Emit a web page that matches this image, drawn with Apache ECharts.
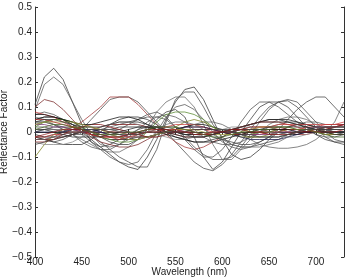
<!DOCTYPE html>
<html><head><meta charset="utf-8">
<script src="https://cdn.jsdelivr.net/npm/echarts@6/dist/echarts.min.js"></script>
<style>html,body{margin:0;padding:0;background:#fff}#c{width:348px;height:277px}</style>
</head><body><div id="c"></div>
<script>
const wavelengths = [400,410,420,430,440,450,460,470,480,490,500,510,520,530,540,550,560,570,580,590,600,610,620,630,640,650,660,670,680,690,700,710,720,730];
const xTicks = [400,450,500,550,600,650,700];
const yTicks = [-0.5,-0.4,-0.3,-0.2,-0.1,0,0.1,0.2,0.3,0.4,0.5];

const g1 = [0.11,0.22,0.255,0.21,0.12,0.03,-0.04,-0.06,-0.05,-0.03,-0.01,0.01,0.02,0.02,0.01,0.0,-0.01,-0.01,-0.01,0.0,0.01,0.01,0.01,0.0,0.0,-0.01,-0.01,0.0,0.0,0.01,0.01,0.01,0.0,0.0];
const g2 = [0.09,0.19,0.22,0.19,0.12,0.05,-0.01,-0.05,-0.06,-0.05,-0.03,-0.01,0.01,0.02,0.02,0.01,0.0,-0.01,-0.01,-0.01,0.0,0.0,0.01,0.01,0.01,0.0,0.0,-0.01,-0.01,0.0,0.0,0.01,0.01,0.01];
const g3 = [-0.02,-0.03,-0.04,-0.03,-0.01,0.01,0.05,0.09,0.13,0.14,0.14,0.12,0.08,0.04,0.0,-0.04,-0.08,-0.12,-0.145,-0.155,-0.13,-0.09,-0.04,0.01,0.06,0.1,0.12,0.125,0.1,0.06,0.02,-0.02,-0.04,-0.05];
const g4 = [-0.03,-0.03,-0.02,0.0,0.02,0.04,0.07,0.1,0.14,0.14,0.14,0.11,0.07,0.03,-0.01,-0.04,-0.06,-0.07,-0.06,-0.04,-0.02,0.0,0.01,0.02,0.02,0.02,0.01,0.0,-0.01,-0.01,0.0,0.01,0.02,0.02];
const g5 = [0.05,0.06,0.06,0.05,0.03,0.0,-0.03,-0.06,-0.09,-0.12,-0.14,-0.15,-0.1,-0.03,0.05,0.12,0.17,0.18,0.13,0.05,-0.03,-0.09,-0.11,-0.1,-0.07,-0.03,0.0,0.02,0.03,0.03,0.02,0.01,0.0,0.0];
const g6 = [0.03,0.04,0.05,0.05,0.04,0.02,-0.01,-0.04,-0.07,-0.1,-0.12,-0.14,-0.14,-0.07,0.04,0.13,0.16,0.16,0.1,0.03,-0.02,-0.05,-0.06,-0.06,-0.05,-0.04,-0.03,-0.01,0.0,0.01,0.02,0.02,0.02,0.02];
const g7 = [0.07,0.08,0.07,0.05,0.02,-0.01,-0.04,-0.07,-0.1,-0.12,-0.13,-0.12,-0.07,0.0,0.06,0.1,0.11,0.09,0.05,0.0,-0.04,-0.06,-0.07,-0.06,-0.04,-0.02,0.0,0.02,0.03,0.04,0.04,0.03,0.03,0.03];
const g8 = [0.0,0.01,0.02,0.02,0.02,0.01,0.0,-0.02,-0.04,-0.05,-0.05,-0.03,0.01,0.05,0.08,0.09,0.06,-0.02,-0.1,-0.15,-0.12,-0.06,0.0,0.05,0.1,0.12,0.12,0.1,0.06,0.02,-0.01,-0.03,-0.04,-0.04];
const g9 = [0.02,0.02,0.01,0.0,-0.01,-0.01,0.0,0.01,0.02,0.03,0.04,0.05,0.06,0.06,0.05,0.02,-0.02,-0.06,-0.09,-0.11,-0.11,-0.1,-0.06,-0.01,0.04,0.09,0.12,0.13,0.12,0.08,0.04,0.0,-0.03,-0.04];
const g10 = [-0.02,-0.02,-0.01,0.0,0.0,0.0,-0.01,-0.01,-0.02,-0.02,-0.01,0.0,0.01,0.02,0.02,0.02,0.01,0.0,-0.01,-0.02,-0.03,-0.04,-0.05,-0.05,-0.04,-0.02,0.01,0.05,0.09,0.12,0.14,0.14,0.1,0.06];
const g11 = [0.0,0.01,0.01,0.01,0.0,0.0,0.0,0.01,0.01,0.01,0.0,-0.01,-0.02,-0.02,-0.01,0.0,0.02,0.03,0.04,0.04,0.03,0.01,-0.01,-0.03,-0.05,-0.06,-0.065,-0.065,-0.06,-0.05,-0.03,0.0,0.04,0.12];
const g12 = [0.04,0.04,0.03,0.02,0.01,0.0,-0.01,-0.01,0.0,0.01,0.03,0.05,0.07,0.08,0.06,0.02,-0.03,-0.07,-0.1,-0.1,-0.07,-0.02,0.04,0.09,0.12,0.12,0.1,0.07,0.04,0.01,-0.01,-0.02,-0.02,-0.01];
const g13 = [0.06,0.05,0.03,0.01,-0.01,-0.03,-0.05,-0.07,-0.08,-0.08,-0.06,-0.03,0.02,0.08,0.12,0.14,0.14,0.1,0.03,-0.05,-0.11,-0.11,-0.07,-0.03,0.0,0.03,0.05,0.06,0.06,0.05,0.03,0.01,0.0,-0.01];
const g14 = [0.1,0.13,0.12,0.09,0.05,0.01,-0.02,-0.04,-0.05,-0.06,-0.06,-0.05,-0.03,-0.01,0.0,0.01,0.02,0.02,0.02,0.01,0.0,-0.01,-0.01,-0.01,0.0,0.0,0.01,0.01,0.01,0.0,0.0,-0.01,-0.01,-0.01];
const g15 = [-0.02,-0.03,-0.04,-0.05,-0.05,-0.05,-0.03,0.0,0.03,0.05,0.06,0.06,0.05,0.03,0.0,-0.02,-0.03,-0.04,-0.04,-0.03,-0.02,0.0,0.02,0.03,0.04,0.05,0.05,0.04,0.03,0.02,0.01,0.0,0.0,0.0];
const g16 = [0.04,0.04,0.03,0.01,-0.01,-0.04,-0.06,-0.07,-0.07,-0.05,-0.02,0.01,0.04,0.06,0.07,0.06,0.04,0.01,-0.02,-0.04,-0.05,-0.05,-0.04,-0.02,0.0,0.02,0.03,0.04,0.04,0.03,0.02,0.01,0.0,-0.01];

const s1 = [0.05,0.06,0.06,0.05,0.03,0.01,-0.01,-0.02,-0.03,-0.03,-0.03,-0.02,-0.02,-0.01,0.0,0.01,0.02,0.03,0.03,0.02,0.01,0.0,-0.01,-0.02,-0.02,-0.02,-0.02,-0.01,-0.01,0.0,0.0,0.01,0.01,0.01];
const s2 = [-0.03,-0.03,-0.03,-0.02,-0.01,0.0,0.01,0.02,0.03,0.03,0.03,0.03,0.02,0.01,0.0,-0.01,-0.02,-0.02,-0.02,-0.01,0.0,0.01,0.01,0.02,0.02,0.02,0.02,0.01,0.01,0.0,0.0,0.0,-0.01,-0.01];
const s3 = [0.08,0.07,0.06,0.04,0.02,0.0,-0.01,-0.02,-0.02,-0.02,-0.01,-0.01,0.0,0.0,0.0,0.01,0.01,0.01,0.01,0.0,0.0,-0.01,-0.01,-0.01,-0.01,0.0,0.0,0.01,0.01,0.02,0.02,0.03,0.03,0.03];
const s4 = [-0.1,-0.05,-0.01,0.01,0.02,0.02,0.02,0.01,0.0,-0.01,-0.02,-0.02,-0.02,-0.01,0.0,0.02,0.04,0.05,0.04,0.02,0.0,-0.01,-0.02,-0.02,-0.02,-0.01,0.0,0.01,0.01,0.01,0.01,0.0,0.0,0.0];
const s5 = [0.02,0.04,0.05,0.05,0.04,0.02,0.0,-0.02,-0.03,-0.04,-0.04,-0.03,0.0,0.04,0.07,0.08,0.08,0.07,0.05,0.02,0.0,-0.01,-0.01,-0.01,0.0,0.0,0.01,0.01,0.01,0.01,0.0,0.0,-0.01,-0.01];
const s6 = [-0.01,-0.02,-0.02,-0.02,-0.01,0.0,0.0,0.01,0.01,0.02,0.02,0.02,0.02,0.01,0.01,0.0,-0.01,-0.01,-0.01,-0.01,0.0,0.01,0.02,0.03,0.04,0.05,0.05,0.05,0.04,0.03,0.02,0.02,0.01,0.01];
const s7 = [0.03,0.03,0.02,0.02,0.01,0.0,0.0,0.0,-0.01,-0.01,-0.02,-0.02,-0.02,-0.01,0.0,0.0,0.01,0.01,0.01,0.01,0.0,0.0,-0.01,-0.01,-0.01,-0.01,0.0,0.0,0.01,0.01,0.02,0.02,0.02,0.03];
const s8 = [-0.04,-0.04,-0.03,-0.01,0.01,0.02,0.03,0.03,0.02,0.01,0.0,-0.01,-0.02,-0.02,-0.01,0.0,0.0,0.01,0.01,0.01,0.0,-0.01,-0.01,0.0,0.0,0.01,0.01,0.01,0.01,0.0,0.0,0.01,0.02,0.03];
const s9 = [-0.04,-0.05,-0.05,-0.05,-0.04,-0.02,0.0,0.02,0.03,0.04,0.04,0.03,0.01,-0.01,-0.02,-0.03,-0.03,-0.02,-0.01,0.0,0.01,0.02,0.02,0.02,0.01,0.0,-0.01,-0.02,-0.02,-0.01,0.0,0.01,0.01,0.01];
const s10 = [0.07,0.07,0.06,0.05,0.04,0.03,0.03,0.04,0.05,0.06,0.06,0.05,0.03,0.01,-0.01,-0.02,-0.03,-0.04,-0.04,-0.04,-0.03,-0.02,-0.01,0.0,0.01,0.01,0.01,0.01,0.0,0.0,0.0,0.0,0.0,0.0];
const s11 = [-0.02,-0.02,-0.01,-0.01,0.0,0.0,0.01,0.01,0.0,0.0,-0.01,-0.01,0.0,0.01,0.02,0.03,0.03,0.03,0.02,0.01,0.0,0.0,0.01,0.01,0.02,0.02,0.03,0.03,0.03,0.03,0.03,0.03,0.03,0.04];
const s12 = [0.0,0.0,0.0,0.0,0.01,0.01,0.01,0.0,-0.01,-0.02,-0.03,-0.03,-0.02,-0.01,0.0,0.01,0.02,0.02,0.02,0.01,0.0,-0.01,-0.02,-0.03,-0.03,-0.03,-0.03,-0.02,-0.01,0.0,0.0,0.0,0.0,0.0];
const s13 = [0.03,0.04,0.04,0.04,0.04,0.03,0.02,0.01,-0.01,-0.02,-0.03,-0.03,-0.02,-0.01,0.0,0.01,0.01,0.01,0.0,-0.01,-0.01,-0.01,0.0,0.01,0.02,0.02,0.02,0.02,0.01,0.01,0.0,-0.01,-0.01,-0.01];
const s14 = [-0.03,-0.03,-0.02,-0.01,0.0,0.0,0.01,0.01,0.01,0.0,0.0,-0.01,0.0,0.01,0.03,0.04,0.04,0.03,0.01,-0.01,-0.03,-0.05,-0.06,-0.06,-0.06,-0.05,-0.04,-0.02,0.0,0.01,0.02,0.02,0.02,0.02];
const s15 = [0.05,0.05,0.04,0.03,0.02,0.01,-0.01,-0.02,-0.02,-0.03,-0.02,-0.01,0.0,0.0,0.01,0.01,0.0,0.0,-0.01,-0.01,0.0,0.01,0.02,0.03,0.04,0.04,0.04,0.03,0.02,0.01,0.0,0.0,0.0,0.01];
const s16 = [0.01,0.01,0.0,-0.01,-0.02,-0.02,-0.02,-0.02,-0.01,0.0,0.01,0.02,0.02,0.02,0.01,0.0,-0.01,-0.02,-0.02,-0.01,0.0,0.01,0.02,0.03,0.04,0.04,0.04,0.04,0.03,0.02,0.01,0.0,-0.01,-0.01];
const s17 = [0.04,0.05,0.05,0.04,0.03,0.02,0.02,0.02,0.03,0.04,0.04,0.04,0.03,0.02,0.0,-0.01,-0.02,-0.02,-0.02,-0.01,0.0,0.0,0.01,0.01,0.01,0.02,0.02,0.02,0.02,0.02,0.01,0.01,0.01,0.01];
const s18 = [-0.02,-0.01,0.0,0.01,0.01,0.01,0.0,-0.01,-0.02,-0.02,-0.01,0.0,0.01,0.01,0.01,0.0,0.0,-0.01,-0.01,0.0,0.0,0.01,0.01,0.0,0.0,-0.01,-0.01,-0.01,0.0,0.0,0.01,0.02,0.02,0.03];
const s19 = [0.01,0.02,0.03,0.03,0.02,0.01,0.0,-0.01,-0.01,-0.01,0.0,0.0,0.01,0.02,0.02,0.02,0.01,0.0,-0.01,-0.02,-0.02,-0.01,0.0,0.0,0.01,0.01,0.02,0.02,0.01,0.01,0.0,-0.01,-0.02,-0.02];
const s20 = [-0.05,-0.04,-0.03,-0.02,-0.01,0.0,0.01,0.01,0.0,-0.01,-0.01,-0.01,0.0,0.0,0.0,0.0,0.0,0.01,0.01,0.01,0.01,0.0,-0.01,-0.01,-0.02,-0.02,-0.02,-0.01,0.0,0.01,0.01,0.02,0.02,0.02];

const bigLines = [g1,g2,g3,g4,g5,g6,g7,g8,g9,g10,g11,g12,g13,g14,g15,g16];
const bigColors = ['#3a3a3a','#5a5a5a','#4a4a4a','#a03838','#333333','#4a4a4a','#555555','#3c3c3c','#505050','#444444','#606060','#4c4c4c','#666666','#7a2a2a','#303030','#5a5a5a'];
const smallLines = [s1,s2,s3,s4,s5,s6,s7,s8,s9,s10,s11,s12,s13,s14,s15,s16,s17,s18,s19,s20];
const smallColors = ['#1a1a1a','#7a1818','#c03030','#7a8020','#5a8a30','#222222','#7a3a7a','#8b1a1a','#888888','#111111','#c84040','#1a1a4a','#a0a040','#666666','#b02a2a','#2a2a2a','#333333','#902020','#4a6a2a','#444444'];

const series = [];
bigLines.forEach((arr, k) => series.push({
  type: 'line', data: wavelengths.map((w, i) => [w, arr[i]]), symbol: 'none',
  lineStyle: { color: bigColors[k], width: 0.9, opacity: 0.85 }, silent: true
}));
smallLines.forEach((arr, k) => series.push({
  type: 'line', data: wavelengths.map((w, i) => [w, arr[i]]), symbol: 'none',
  lineStyle: { color: smallColors[k], width: 0.9, opacity: 0.85 }, silent: true
}));

const font = { fontFamily: 'Liberation Sans, Arial, sans-serif', fontSize: 10, color: '#222' };
const chart = echarts.init(document.getElementById('c'));
chart.setOption({
  animation: false,
  backgroundColor: '#fff',
  grid: { left: 35, right: 4, top: 7, bottom: 20, show: false, containLabel: false, outerBoundsMode: 'none' },
  xAxis: [{
    type: 'value', min: 400, max: 730, interval: 50, position: 'bottom',
    name: 'Wavelength (nm)', nameLocation: 'middle', nameGap: 10, nameMoveOverlap: false,
    nameTextStyle: font,
    axisLine: { show: true, lineStyle: { color: '#333', width: 1 } },
    axisTick: { show: true, inside: true, length: 3, lineStyle: { color: '#333' } },
    axisLabel: Object.assign({ margin: 0, showMaxLabel: false, formatter: v => xTicks.includes(v) ? String(v) : '' }, font),
    splitLine: { show: false }
  }, {
    type: 'value', min: 400, max: 730, interval: 50, position: 'top',
    axisLine: { show: true, lineStyle: { color: '#333', width: 1 } },
    axisTick: { show: true, inside: true, length: 3, lineStyle: { color: '#333' } },
    axisLabel: { show: false }, splitLine: { show: false }
  }],
  yAxis: [{
    type: 'value', min: -0.5, max: 0.5, interval: 0.1, position: 'left',
    name: 'Reflectance Factor', nameLocation: 'middle', nameGap: 26, nameRotate: 90, nameMoveOverlap: false,
    nameTextStyle: font,
    axisLine: { show: true, lineStyle: { color: '#333', width: 1 } },
    axisTick: { show: true, inside: true, length: 3, lineStyle: { color: '#333' } },
    axisLabel: Object.assign({ margin: 3, formatter: v => {
      const t = yTicks.find(y => Math.abs(y - v) < 1e-9);
      return t === undefined ? '' : (t === 0 ? '0' : t.toFixed(1).replace('-', '\u2212'));
    } }, font),
    splitLine: { show: false }
  }, {
    type: 'value', min: -0.5, max: 0.5, interval: 0.1, position: 'right',
    axisLine: { show: true, lineStyle: { color: '#333', width: 1 } },
    axisTick: { show: true, inside: true, length: 3, lineStyle: { color: '#333' } },
    axisLabel: { show: false }, splitLine: { show: false }
  }],
  series: series
});
</script>
</body></html>
